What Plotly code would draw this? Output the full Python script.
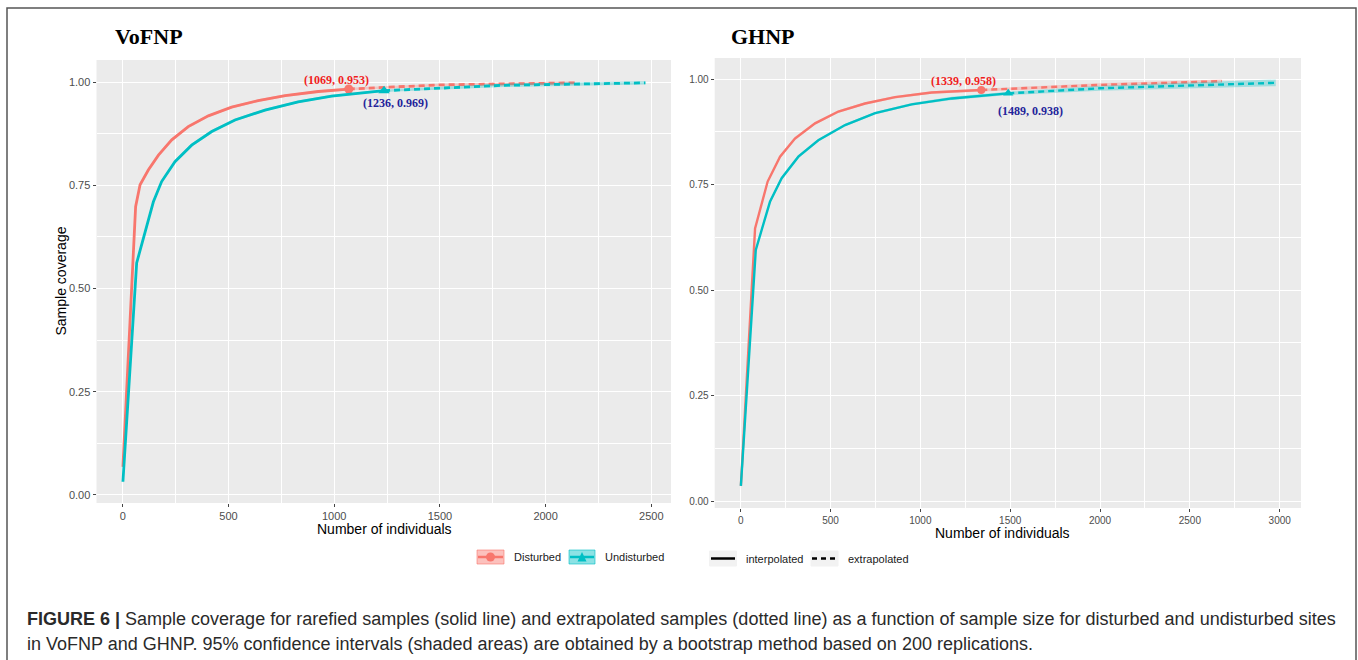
import plotly.graph_objects as go

W, H = 1358, 660

# ---------------- data ----------------
# VoFNP
vo_dist_int_x = [1, 61, 82, 121, 169, 232, 310, 405, 515, 641, 768, 925, 1069]
vo_dist_int_y = [0.068, 0.698, 0.751, 0.787, 0.823, 0.860, 0.892, 0.918, 0.939, 0.955, 0.967, 0.977, 0.983]
vo_dist_ci = [0.010, 0.006, 0.005, 0.005, 0.004, 0.004, 0.004, 0.003, 0.003, 0.003, 0.003, 0.003, 0.003]
vo_dist_ext_x = [1069, 1500, 2138]
vo_dist_ext_y = [0.983, 0.993, 0.998]
vo_dist_ext_ci = [0.003, 0.003, 0.003]

vo_und_int_x = [1, 66, 145, 184, 247, 326, 421, 531, 673, 830, 988, 1146, 1236]
vo_und_int_y = [0.032, 0.562, 0.710, 0.759, 0.807, 0.847, 0.880, 0.908, 0.932, 0.952, 0.966, 0.975, 0.979]
vo_und_ci = [0.008, 0.006, 0.005, 0.005, 0.004, 0.004, 0.004, 0.003, 0.003, 0.003, 0.003, 0.003, 0.003]
vo_und_ext_x = [1236, 1800, 2472]
vo_und_ext_y = [0.979, 0.992, 0.998]
vo_und_ext_ci = [0.003, 0.004, 0.004]

# GHNP
gh_dist_int_x = [1, 80, 150, 219, 302, 414, 544, 692, 859, 1063, 1339]
gh_dist_int_y = [0.036, 0.646, 0.757, 0.816, 0.859, 0.895, 0.923, 0.942, 0.957, 0.968, 0.974]
gh_dist_ci = [0.008, 0.005, 0.004, 0.004, 0.004, 0.003, 0.003, 0.003, 0.003, 0.003, 0.003]
gh_dist_ext_x = [1339, 2000, 2678]
gh_dist_ext_y = [0.974, 0.986, 0.995]
gh_dist_ext_ci = [0.003, 0.004, 0.004]

gh_und_int_x = [1, 84, 163, 228, 321, 432, 581, 748, 952, 1175, 1489]
gh_und_int_y = [0.036, 0.595, 0.709, 0.765, 0.816, 0.855, 0.891, 0.919, 0.940, 0.954, 0.966]
gh_und_ci = [0.008, 0.005, 0.004, 0.004, 0.004, 0.003, 0.003, 0.003, 0.003, 0.004, 0.004]
gh_und_ext_x = [1489, 2000, 2978]
gh_und_ext_y = [0.966, 0.978, 0.991]
gh_und_ext_ci = [0.004, 0.006, 0.008]

panel_titles = ["VoFNP", "GHNP"]
site_names = ["Disturbed", "Undisturbed"]
line_types = ["interpolated", "extrapolated"]
point_labels = [["(1069, 0.953)", "(1236, 0.969)"], ["(1339, 0.958)", "(1489, 0.938)"]]
x_ticks = [[0, 500, 1000, 1500, 2000, 2500], [0, 500, 1000, 1500, 2000, 2500, 3000]]
y_ticks = [0, 0.25, 0.5, 0.75, 1.0]
y_ticktext = ["0.00", "0.25", "0.50", "0.75", "1.00"]
caption_lines = [
    "<b>FIGURE 6 |</b> Sample coverage for rarefied samples (solid line) and extrapolated samples (dotted line) as a function of sample size for disturbed and undisturbed sites",
    "in VoFNP and GHNP. 95% confidence intervals (shaded areas) are obtained by a bootstrap method based on 200 replications.",
]

RED = "#F8766D"
TEAL = "#00BFC4"
RED_FILL = "rgba(248,118,109,0.30)"
TEAL_FILL = "rgba(0,191,196,0.30)"


def px(x):
    return x / W


def py(y):
    return 1 - y / H


fig = go.Figure()


def add_site(xa, ya, ix, iy, ici, ex, ey, eci, color, fill, symbol, msize, lw):
    allx = ix + ex[1:]
    ally = iy + ey[1:]
    allc = ici + eci[1:]
    lo = [y - c for y, c in zip(ally, allc)]
    hi = [y + c for y, c in zip(ally, allc)]
    fig.add_trace(go.Scatter(x=allx + allx[::-1], y=hi + lo[::-1], fill="toself",
                             fillcolor=fill, line=dict(width=0), mode="lines",
                             xaxis=xa, yaxis=ya, hoverinfo="skip", showlegend=False))
    fig.add_trace(go.Scatter(x=ix, y=iy, mode="lines", line=dict(color=color, width=lw),
                             xaxis=xa, yaxis=ya, showlegend=False))
    fig.add_trace(go.Scatter(x=ex, y=ey, mode="lines",
                             line=dict(color=color, width=lw, dash="6px,4px"),
                             xaxis=xa, yaxis=ya, showlegend=False))
    fig.add_trace(go.Scatter(x=[ix[-1]], y=[iy[-1]], mode="markers",
                             marker=dict(color=color, size=msize, symbol=symbol),
                             xaxis=xa, yaxis=ya, showlegend=False))


add_site("x", "y", vo_dist_int_x, vo_dist_int_y, vo_dist_ci, vo_dist_ext_x, vo_dist_ext_y,
         vo_dist_ext_ci, RED, RED_FILL, "circle", 9, 2.8)
add_site("x", "y", vo_und_int_x, vo_und_int_y, vo_und_ci, vo_und_ext_x, vo_und_ext_y,
         vo_und_ext_ci, TEAL, TEAL_FILL, "triangle-up", 10, 2.8)
add_site("x2", "y2", gh_dist_int_x, gh_dist_int_y, gh_dist_ci, gh_dist_ext_x, gh_dist_ext_y,
         gh_dist_ext_ci, RED, RED_FILL, "circle", 8, 2.4)
add_site("x2", "y2", gh_und_int_x, gh_und_int_y, gh_und_ci, gh_und_ext_x, gh_und_ext_y,
         gh_und_ext_ci, TEAL, TEAL_FILL, "triangle-up", 9, 2.4)

# panel geometry (pixels)
L = dict(x0=96.5, x1=671, y0=60, y1=503)
R = dict(x0=714.7, x1=1301, y0=58, y1=508)


def axis_common(tsize, ticks, ttext=None):
    d = dict(showgrid=True, gridcolor="white", gridwidth=1.3, zeroline=False,
             showline=False, ticks="outside", ticklen=3, tickwidth=1, tickcolor="#444444",
             tickfont=dict(family="Liberation Sans, Arial", size=tsize, color="#4D4D4D"),
             tickvals=ticks, fixedrange=True)
    if ttext is not None:
        d["ticktext"] = ttext
    return d


xa1 = axis_common(11, x_ticks[0])
xa1.update(domain=[px(L["x0"]), px(L["x1"])], range=[-124, 2593], anchor="y",
           minor=dict(showgrid=True, gridcolor="white", gridwidth=0.6, dtick=250, tick0=250))
ya1 = axis_common(11, y_ticks, y_ticktext)
ya1.update(domain=[py(L["y1"]), py(L["y0"])], range=[-0.0194, 1.0533], anchor="x",
           minor=dict(showgrid=True, gridcolor="white", gridwidth=0.6, dtick=0.25, tick0=0.125))
xa2 = axis_common(10, x_ticks[1])
xa2.update(domain=[px(R["x0"]), px(R["x1"])], range=[-144.7, 3118.5], anchor="y2",
           minor=dict(showgrid=True, gridcolor="white", gridwidth=0.6, dtick=250, tick0=250))
ya2 = axis_common(10, y_ticks, y_ticktext)
ya2.update(domain=[py(R["y1"]), py(R["y0"])], range=[-0.0166, 1.0498], anchor="x2",
           minor=dict(showgrid=True, gridcolor="white", gridwidth=0.6, dtick=0.25, tick0=0.125))

fig.update_layout(
    width=W, height=H, margin=dict(l=0, r=0, t=0, b=0),
    paper_bgcolor="white", plot_bgcolor="#EBEBEB", showlegend=False,
    xaxis=xa1, yaxis=ya1, xaxis2=xa2, yaxis2=ya2,
)

ann = []
serif = "Liberation Serif, Times New Roman, serif"
sans = "Liberation Sans, Arial, sans-serif"
# panel titles
ann.append(dict(x=px(112.7), y=py(37), text="<b>%s</b>" % panel_titles[0], xanchor="left",
                yanchor="middle", font=dict(family=serif, size=22, color="black")))
ann.append(dict(x=px(729), y=py(37), text="<b>%s</b>" % panel_titles[1], xanchor="left",
                yanchor="middle", font=dict(family=serif, size=22, color="black")))
# point labels (anchored to the data points)
ann.append(dict(x=vo_dist_int_x[-1], y=vo_dist_int_y[-1], xref="x", yref="y",
                text="<b>%s</b>" % point_labels[0][0], showarrow=False, xshift=-12, yshift=9,
                font=dict(family=serif, size=12, color="#F01E1E")))
ann.append(dict(x=vo_und_int_x[-1], y=vo_und_int_y[-1], xref="x", yref="y",
                text="<b>%s</b>" % point_labels[0][1], showarrow=False, xshift=11, yshift=-12,
                font=dict(family=serif, size=12, color="#23239A")))
ann.append(dict(x=gh_dist_int_x[-1], y=gh_dist_int_y[-1], xref="x2", yref="y2",
                text="<b>%s</b>" % point_labels[1][0], showarrow=False, xshift=-18, yshift=9,
                font=dict(family=serif, size=12, color="#F01E1E")))
ann.append(dict(x=gh_und_int_x[-1], y=gh_und_int_y[-1], xref="x2", yref="y2",
                text="<b>%s</b>" % point_labels[1][1], showarrow=False, xshift=22, yshift=-18,
                font=dict(family=serif, size=12, color="#23239A")))
# axis titles
ann.append(dict(x=px(60.5), y=py(281), text="Sample coverage", textangle=-90,
                xanchor="center", yanchor="middle", font=dict(family=sans, size=14, color="black")))
ann.append(dict(x=px(384), y=py(529), text="Number of individuals",
                xanchor="center", yanchor="middle", font=dict(family=sans, size=14, color="black")))
ann.append(dict(x=px(1002.6), y=py(533), text="Number of individuals",
                xanchor="center", yanchor="middle", font=dict(family=sans, size=14, color="black")))
# legend texts
ann.append(dict(x=px(512), y=py(557), text=site_names[0], xanchor="left", yanchor="middle",
                font=dict(family=sans, size=11, color="#1A1A1A")))
ann.append(dict(x=px(603), y=py(557), text=site_names[1], xanchor="left", yanchor="middle",
                font=dict(family=sans, size=11, color="#1A1A1A")))
ann.append(dict(x=px(744), y=py(559), text=line_types[0], xanchor="left", yanchor="middle",
                font=dict(family=sans, size=11, color="#1A1A1A")))
ann.append(dict(x=px(846), y=py(559), text=line_types[1], xanchor="left", yanchor="middle",
                font=dict(family=sans, size=11, color="#1A1A1A")))
# caption
cap_font = dict(family=sans, size=18, color="#2A2A2A")
ann.append(dict(x=px(25), y=py(619), xanchor="left", yanchor="middle", text=caption_lines[0], font=cap_font))
ann.append(dict(x=px(25), y=py(644), xanchor="left", yanchor="middle", text=caption_lines[1], font=cap_font))
for a in ann:
    a.setdefault("xref", "paper")
    a.setdefault("yref", "paper")
    a.setdefault("showarrow", False)
fig.update_layout(annotations=ann)

shapes = []
# outer frame
shapes.append(dict(type="rect", xref="paper", yref="paper", x0=px(7), x1=px(1356), y0=py(668), y1=py(8),
                   line=dict(color="#555555", width=1.5), fillcolor="rgba(0,0,0,0)", layer="above"))


def key_box(x0, x1, y0, y1, fill, border):
    shapes.append(dict(type="rect", xref="paper", yref="paper", x0=px(x0), x1=px(x1), y0=py(y1), y1=py(y0),
                       fillcolor=fill, line=dict(color=border, width=1)))


# legend keys: sites
key_box(477, 504, 550, 564, "rgba(248,118,109,0.45)", "rgba(248,118,109,0.6)")
shapes.append(dict(type="line", xref="paper", yref="paper", x0=px(478), x1=px(503), y0=py(557), y1=py(557),
                   line=dict(color=RED, width=2.5)))
shapes.append(dict(type="circle", xref="paper", yref="paper", x0=px(486), x1=px(495), y0=py(561.5), y1=py(552.5),
                   fillcolor=RED, line=dict(color=RED, width=0)))
key_box(569, 595, 550, 564, "rgba(0,191,196,0.45)", "rgba(0,191,196,0.6)")
shapes.append(dict(type="line", xref="paper", yref="paper", x0=px(570), x1=px(594), y0=py(557), y1=py(557),
                   line=dict(color=TEAL, width=2.5)))
shapes.append(dict(type="path", xref="paper", yref="paper",
                   path="M %f %f L %f %f L %f %f Z" % (px(577.5), py(561.5), px(586.5), py(561.5), px(582), py(552)),
                   fillcolor=TEAL, line=dict(color=TEAL, width=0)))
# legend keys: line types
key_box(709.5, 736.5, 551, 566, "#F2F2F2", "#F2F2F2")
shapes.append(dict(type="line", xref="paper", yref="paper", x0=px(711), x1=px(735), y0=py(558.5), y1=py(558.5),
                   line=dict(color="black", width=2.5)))
key_box(811, 838, 551, 566, "#F2F2F2", "#F2F2F2")
shapes.append(dict(type="line", xref="paper", yref="paper", x0=px(812), x1=px(837), y0=py(558.5), y1=py(558.5),
                   line=dict(color="black", width=2.5, dash="5px,4px")))
fig.update_layout(shapes=shapes)

fig.write_html("out.html", config={"displayModeBar": False},
               post_script="document.body.style.margin='0px';document.body.style.overflow='hidden';")
